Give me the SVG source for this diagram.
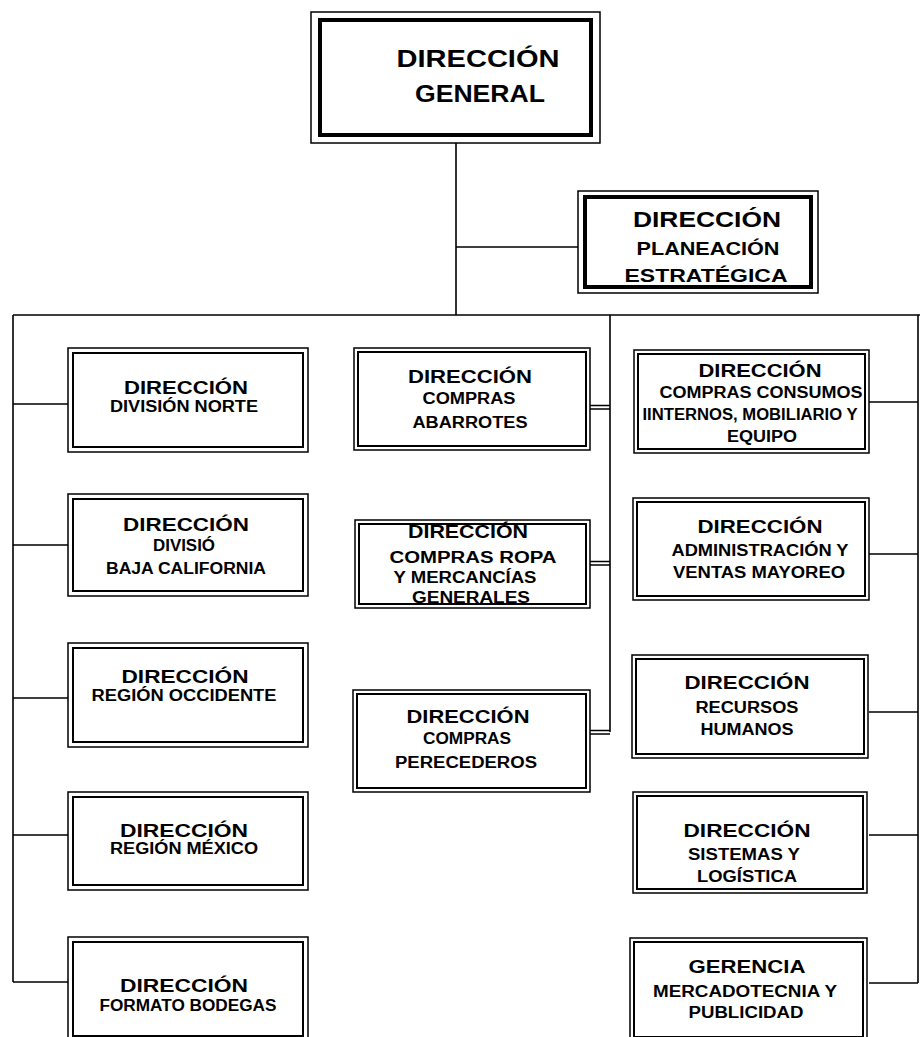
<svg xmlns="http://www.w3.org/2000/svg" width="920" height="1037" viewBox="0 0 920 1037">
<style>
.o{fill:#fff;stroke:#000;stroke-width:1.5}
.i{fill:none;stroke:#000;stroke-width:2}
.ti{fill:none;stroke:#000;stroke-width:4}
.c{fill:none;stroke:#000;stroke-width:1.6}
text{font-family:"Liberation Sans",Arial,sans-serif;font-weight:bold;fill:#000;text-anchor:middle}
.h{font-size:18px}
.s{font-size:16px}
.H{font-size:24px}
.P{font-size:22px}
.Ps{font-size:19px}
</style>
<rect width="920" height="1037" fill="#fff"/>
<g id="connectors">
<path class="c" d="M456 143V315M456 247H578M13 315H920M13 315V982M610 315V732M918 315V983"/>
<path class="c" d="M13 404H68M13 545H68M13 698H68M13 835H68M13 982H68"/>
<path class="c" d="M869 402H918M869 554H918M869 712H918M869 835H918M869 983H918"/>
<path class="c" d="M590 405.5H610M590 409H610M590 561.5H610M590 565H610M590 730.5H610M590 734H610"/>
</g>
<g id="n-general">
<rect class="o" x="311" y="12" width="289" height="131"/>
<rect class="ti" x="320" y="20" width="271" height="115"/>
<text class="H" x="478" y="67" textLength="163" lengthAdjust="spacingAndGlyphs">DIRECCIÓN</text>
<text class="H" x="480" y="102" textLength="130" lengthAdjust="spacingAndGlyphs">GENERAL</text>
</g>
<g id="n-planeacion">
<rect class="o" x="578" y="191" width="240" height="102"/>
<rect class="ti" x="585" y="197" width="226" height="90"/>
<text class="P" x="707" y="227" textLength="148" lengthAdjust="spacingAndGlyphs">DIRECCIÓN</text>
<text class="Ps" x="708" y="255" textLength="143" lengthAdjust="spacingAndGlyphs">PLANEACIÓN</text>
<text class="Ps" x="706" y="282" textLength="163" lengthAdjust="spacingAndGlyphs">ESTRATÉGICA</text>
</g>
<g id="n-norte">
<rect class="o" x="68" y="348" width="240" height="104"/>
<rect class="i" x="73" y="353" width="230" height="94"/>
<text class="h" x="186" y="394" textLength="124" lengthAdjust="spacingAndGlyphs">DIRECCIÓN</text>
<text class="s" x="184" y="412" textLength="148" lengthAdjust="spacingAndGlyphs">DIVISIÓN NORTE</text>
</g>
<g id="n-baja">
<rect class="o" x="68" y="494" width="240" height="102"/>
<rect class="i" x="73" y="499" width="230" height="92"/>
<text class="h" x="186" y="531" textLength="126" lengthAdjust="spacingAndGlyphs">DIRECCIÓN</text>
<text class="s" x="184" y="551" textLength="62" lengthAdjust="spacingAndGlyphs">DIVISIÓ</text>
<text class="s" x="186" y="574" textLength="160" lengthAdjust="spacingAndGlyphs">BAJA CALIFORNIA</text>
</g>
<g id="n-occidente">
<rect class="o" x="68" y="643" width="240" height="104"/>
<rect class="i" x="73" y="648" width="230" height="94"/>
<text class="h" x="185" y="683" textLength="127" lengthAdjust="spacingAndGlyphs">DIRECCIÓN</text>
<text class="s" x="184" y="701" textLength="185" lengthAdjust="spacingAndGlyphs">REGIÓN OCCIDENTE</text>
</g>
<g id="n-mexico">
<rect class="o" x="68" y="792" width="240" height="98"/>
<rect class="i" x="73" y="797" width="230" height="88"/>
<text class="h" x="184" y="837" textLength="128" lengthAdjust="spacingAndGlyphs">DIRECCIÓN</text>
<text class="s" x="184" y="854" textLength="148" lengthAdjust="spacingAndGlyphs">REGIÓN MÉXICO</text>
</g>
<g id="n-bodegas">
<rect class="o" x="68" y="937" width="240" height="104"/>
<rect class="i" x="73" y="942" width="230" height="94"/>
<text class="h" x="184" y="992" textLength="128" lengthAdjust="spacingAndGlyphs">DIRECCIÓN</text>
<text class="s" x="188" y="1011" textLength="177" lengthAdjust="spacingAndGlyphs">FORMATO BODEGAS</text>
</g>
<g id="n-abarrotes">
<rect class="o" x="354" y="348" width="236" height="102"/>
<rect class="i" x="358" y="352" width="228" height="94"/>
<text class="h" x="470" y="383" textLength="124" lengthAdjust="spacingAndGlyphs">DIRECCIÓN</text>
<text class="s" x="469" y="404" textLength="93" lengthAdjust="spacingAndGlyphs">COMPRAS</text>
<text class="s" x="470" y="428" textLength="115" lengthAdjust="spacingAndGlyphs">ABARROTES</text>
</g>
<g id="n-ropa">
<rect class="o" x="355" y="520" width="235" height="88"/>
<rect class="i" x="359" y="524" width="227" height="80"/>
<text class="h" x="468" y="538" textLength="120" lengthAdjust="spacingAndGlyphs">DIRECCIÓN</text>
<text class="s" x="473" y="563" textLength="167" lengthAdjust="spacingAndGlyphs">COMPRAS  ROPA</text>
<text class="s" x="465" y="583" textLength="143" lengthAdjust="spacingAndGlyphs">Y MERCANCÍAS</text>
<text class="s" x="471" y="603" textLength="118" lengthAdjust="spacingAndGlyphs">GENERALES</text>
</g>
<g id="n-perecederos">
<rect class="o" x="353" y="690" width="237" height="102"/>
<rect class="i" x="357" y="694" width="229" height="94"/>
<text class="h" x="468" y="723" textLength="123" lengthAdjust="spacingAndGlyphs">DIRECCIÓN</text>
<text class="s" x="467" y="744" textLength="88" lengthAdjust="spacingAndGlyphs">COMPRAS</text>
<text class="s" x="466" y="768" textLength="142" lengthAdjust="spacingAndGlyphs">PERECEDEROS</text>
</g>
<g id="n-consumos">
<rect class="o" x="634" y="350" width="235" height="103"/>
<rect class="i" x="638" y="354" width="227" height="95"/>
<text class="h" x="760" y="377" textLength="123" lengthAdjust="spacingAndGlyphs">DIRECCIÓN</text>
<text class="s" x="761" y="398" textLength="203" lengthAdjust="spacingAndGlyphs">COMPRAS CONSUMOS</text>
<text class="s" x="750" y="420" textLength="215" lengthAdjust="spacingAndGlyphs">IINTERNOS, MOBILIARIO Y</text>
<text class="s" x="762" y="442" textLength="70" lengthAdjust="spacingAndGlyphs">EQUIPO</text>
</g>
<g id="n-admin">
<rect class="o" x="633" y="498" width="236" height="102"/>
<rect class="i" x="637" y="502" width="228" height="94"/>
<text class="h" x="760" y="533" textLength="125" lengthAdjust="spacingAndGlyphs">DIRECCIÓN</text>
<text class="s" x="760" y="556" textLength="177" lengthAdjust="spacingAndGlyphs">ADMINISTRACIÓN Y</text>
<text class="s" x="759" y="578" textLength="172" lengthAdjust="spacingAndGlyphs">VENTAS MAYOREO</text>
</g>
<g id="n-rrhh">
<rect class="o" x="632" y="655" width="236" height="103"/>
<rect class="i" x="636" y="659" width="228" height="95"/>
<text class="h" x="747" y="689" textLength="125" lengthAdjust="spacingAndGlyphs">DIRECCIÓN</text>
<text class="s" x="747" y="713" textLength="103" lengthAdjust="spacingAndGlyphs">RECURSOS</text>
<text class="s" x="747" y="735" textLength="93" lengthAdjust="spacingAndGlyphs">HUMANOS</text>
</g>
<g id="n-sistemas">
<rect class="o" x="633" y="792" width="234" height="101"/>
<rect class="i" x="637" y="796" width="226" height="93"/>
<text class="h" x="747" y="837" textLength="127" lengthAdjust="spacingAndGlyphs">DIRECCIÓN</text>
<text class="s" x="744" y="860" textLength="112" lengthAdjust="spacingAndGlyphs">SISTEMAS Y</text>
<text class="s" x="747" y="882" textLength="100" lengthAdjust="spacingAndGlyphs">LOGÍSTICA</text>
</g>
<g id="n-mercadotecnia">
<rect class="o" x="630" y="938" width="237" height="103"/>
<rect class="i" x="634" y="942" width="229" height="95"/>
<text class="h" x="747" y="973" textLength="117" lengthAdjust="spacingAndGlyphs">GERENCIA</text>
<text class="s" x="745" y="997" textLength="184" lengthAdjust="spacingAndGlyphs">MERCADOTECNIA Y</text>
<text class="s" x="746" y="1018" textLength="115" lengthAdjust="spacingAndGlyphs">PUBLICIDAD</text>
</g>
</svg>
